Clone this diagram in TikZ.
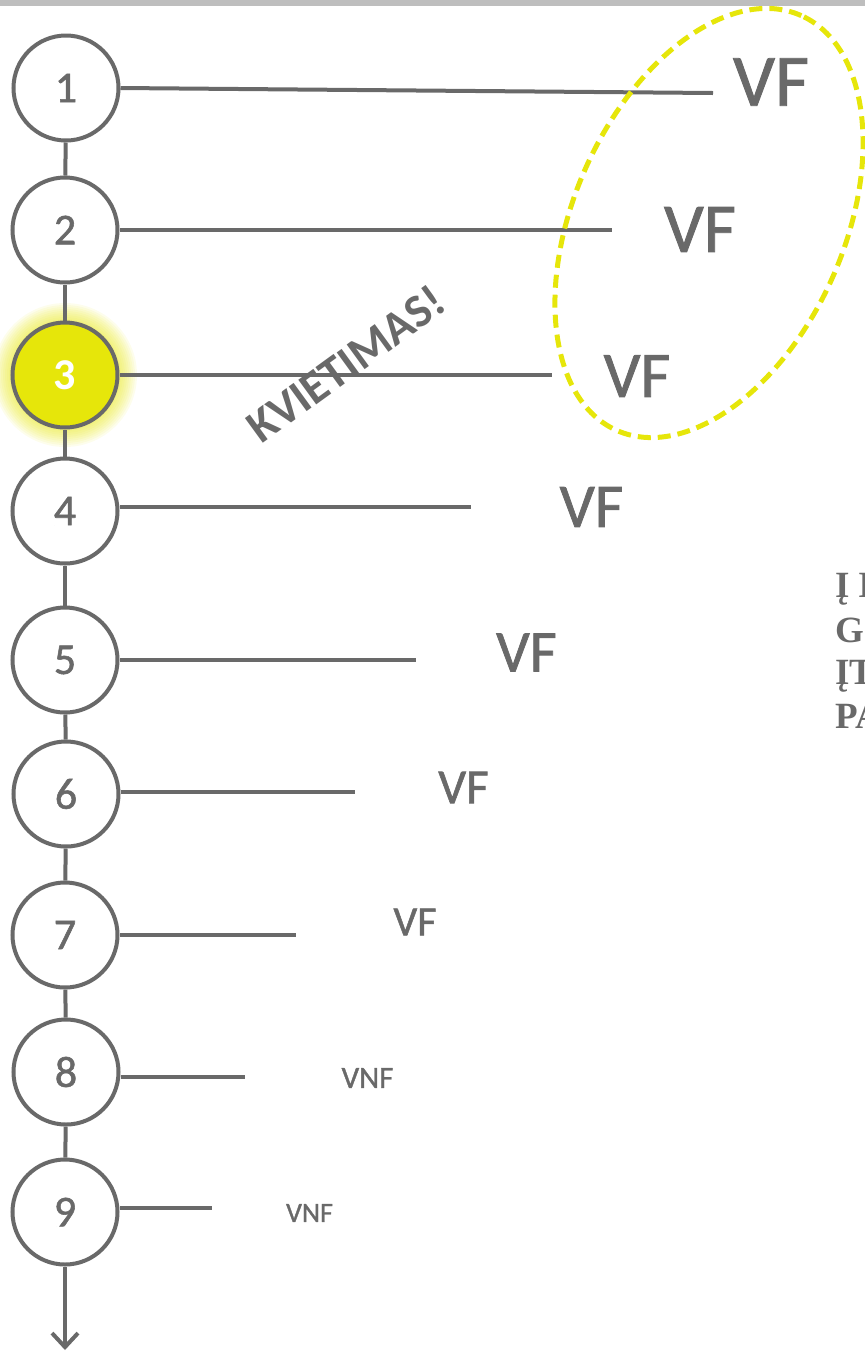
\documentclass[tikz,border=0pt]{standalone}
\usepackage{fontspec}
\setmainfont{Carlito}
\newfontfamily\vffont[FakeBold=1.2]{Carlito}
\newfontfamily\serifbold{Liberation Serif}
\usetikzlibrary{arrows.meta}
\definecolor{lg}{RGB}{105,105,105}
\definecolor{yel}{RGB}{230,230,10}
\definecolor{topbar}{RGB}{190,190,190}
\begin{document}
\begin{tikzpicture}[x=1pt,y=-1pt,
  stepcirc/.style={circle,draw=lg,line width=4pt,fill=white,minimum size=105pt,inner sep=0pt,
    text=lg,font=\vffont\fontsize{44}{44}\selectfont},
  conn/.style={draw=lg,line width=4pt},
  vf/.style={text=lg,inner sep=0pt},
  rtext/.style={anchor=base west,inner sep=0pt,text=lg,font=\serifbold\bfseries\fontsize{37}{37}\selectfont}]
\useasboundingbox (0,0) rectangle (865,1353);
\fill[topbar] (0,0) rectangle (865,6);
% glow of step 3
\coordinate (g3) at (65,375);
\foreach \r in {72,70,68,66,64,62,60,58,56,54} \fill[yel,opacity=0.08] (g3) circle (\r pt);
% steps
\node[stepcirc] (c1) at (66,88) {1};
\node[stepcirc] (c2) at (65,230) {2};
\node[stepcirc,fill=yel,text=white,font=\bfseries\fontsize{44}{44}\selectfont] (c3) at (65,375) {3};
\node[stepcirc] (c4) at (65,511) {4};
\node[stepcirc] (c5) at (65,660) {5};
\node[stepcirc] (c6) at (66,794) {6};
\node[stepcirc] (c7) at (65,935) {7};
\node[stepcirc] (c8) at (66,1072) {8};
\node[stepcirc] (c9) at (65,1212) {9};
\foreach \a/\b in {c1/c2,c2/c3,c3/c4,c4/c5,c5/c6,c6/c7,c7/c8,c8/c9}
  \draw[conn] (\a) -- (\b);
\coordinate (arrowend) at (65,1350);
\draw[conn,-{Straight Barb[length=14pt,width=26pt,line width=4pt]}] (c9) -- (arrowend);
% horizontal lines
\coordinate (e1) at (713,93);
\coordinate (e2) at (612,230);
\coordinate (e3) at (552,375);
\coordinate (e4) at (471,507);
\coordinate (e5) at (416,660);
\coordinate (e6) at (355,792);
\coordinate (e7) at (296,935);
\coordinate (e8) at (245,1077);
\coordinate (e9) at (212,1208);
\draw[conn] (c1.east) -- (e1);
\draw[conn] (c2.east) -- (e2);
\draw[conn] (c3.east) -- (e3);
\draw[conn] (c4.east |- e4) -- (e4);
\draw[conn] (c5.east) -- (e5);
\draw[conn] (c6.east |- e6) -- (e6);
\draw[conn] (c7.east) -- (e7);
\draw[conn] (c8.east |- e8) -- (e8);
\draw[conn] (c9.east |- e9) -- (e9);
% labels
\node[vf,font=\vffont\fontsize{74}{74}\selectfont] (v1) at (771,82) {VF};
\node[vf,font=\vffont\fontsize{70}{70}\selectfont] (v2) at (700,229.5) {VF};
\node[vf,font=\vffont\fontsize{65}{65}\selectfont] (v3) at (637,376) {VF};
\node[vf,font=\vffont\fontsize{62}{62}\selectfont] (v4) at (591.5,507) {VF};
\node[vf,font=\vffont\fontsize{59}{59}\selectfont] (v5) at (526.5,652.5) {VF};
\node[vf,font=\vffont\fontsize{49}{49}\selectfont] (v6) at (463.5,787.5) {VF};
\node[vf,font=\vffont\fontsize{42}{42}\selectfont] (v7) at (415,922) {VF};
\node[vf,font=\vffont\fontsize{31}{31}\selectfont] (v8) at (367.5,1078) {VNF};
\node[vf,font=\vffont\fontsize{28}{28}\selectfont] (v9) at (309.5,1213) {VNF};
% dashed ellipse
\draw[yel,line width=5pt,dash pattern=on 13pt off 7pt,rotate around={66:(709,223)}] (709,223) ellipse [x radius=227pt, y radius=135pt];
% invitation
\node[vf,rotate=36,font=\bfseries\fontsize{47}{47}\selectfont] (kv) at (346,364) {KVIETIMAS!};
% right text (cut by the page edge)
\begin{scope}
\clip (0,0) rectangle (865,1353);
\node[rtext] (r1) at (835,597) {Į I};
\node[rtext] (r2) at (835,642) {G};
\node[rtext] (r3) at (835,684) {ĮT};
\node[rtext] (r4) at (835,728) {PA};
\end{scope}
\end{tikzpicture}
\end{document}
